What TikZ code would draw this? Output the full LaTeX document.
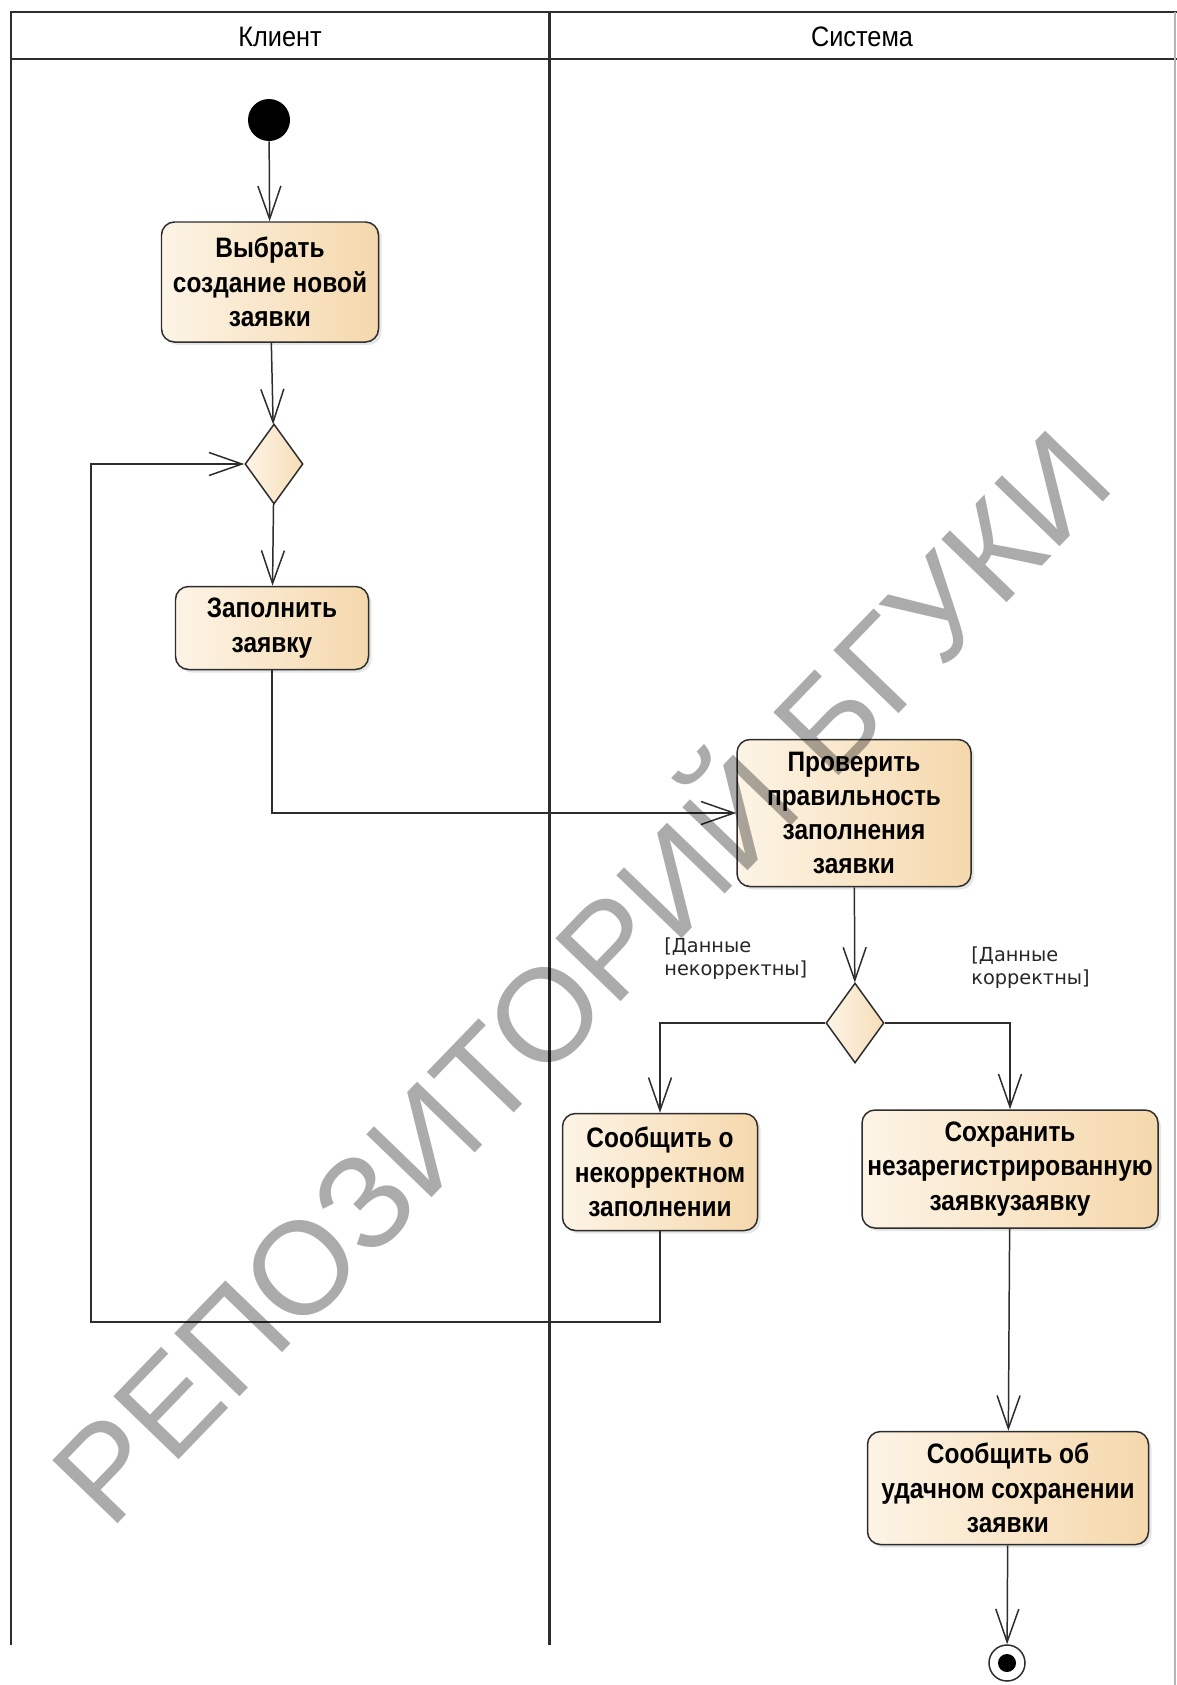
\documentclass[tikz,border=0pt]{standalone}
\usepackage{fontspec}
\setmainfont{Liberation Sans}
\newfontfamily\actfont{Liberation Sans}[FakeStretch=0.87]
\newfontfamily\lanefont{Liberation Sans}[FakeStretch=0.9]
\newfontfamily\guardfont{DejaVu Sans}
\usetikzlibrary{arrows.meta, shapes.geometric, shadows}

\definecolor{actfill}{RGB}{245,216,172}
\definecolor{actlight}{RGB}{253,244,230}
\definecolor{linec}{RGB}{45,45,45}

\begin{document}
\begin{tikzpicture}[x=0.2mm, y=-0.2mm,
  >={Straight Barb[length=6.6mm, width=4.6mm]},
  accion/.style={draw=linec, line width=0.85pt, rounded corners=2.6mm,
    left color=actlight, right color=actfill,
    drop shadow={shadow xshift=0.6mm, shadow yshift=-0.6mm, opacity=0.2},
    align=center, inner sep=0pt,
    font=\actfont\bfseries\fontsize{16}{19.5}\selectfont},
  decision/.style={diamond, draw=linec, line width=0.85pt,
    left color=actlight, right color=actfill!85,
    minimum width=11.6mm, minimum height=16mm, inner sep=0pt},
  flujo/.style={->, draw=linec, line width=0.85pt},
  guarda/.style={align=left, inner sep=0pt, text=black!85,
    font=\guardfont\fontsize{11}{13.6}\selectfont},
  carril/.style={draw=linec, line width=1.7pt}]
  \useasboundingbox (0,0) rectangle (1177,1685);
  % carriles
  \draw[carril] (11,1645) -- (11,12) -- (1177,12);
  \draw[carril] (11,59) -- (1177,59);
  \draw[carril] (549,12) -- (549,1645);
  \draw[draw=linec!35, line width=1pt] (1175,12) -- (1175,1685);
  \node[font=\lanefont\fontsize{16}{19}\selectfont] (cliente) at (280,37) {Клиент};
  \node[font=\lanefont\fontsize{16}{19}\selectfont] (sistema) at (862,37) {Система};
  % nodos de actividad
  \node[circle, fill=black, minimum size=8.4mm, inner sep=0pt] (inicio) at (269,120) {};
  \node[accion, minimum width=43.4mm, minimum height=24mm] (elegir) at (270,282)
    {Выбрать\\создание новой\\заявки};
  \node[decision] (dec1) at (274,464) {};
  \node[accion, minimum width=38.6mm, minimum height=16.6mm] (llenar) at (272,628)
    {Заполнить\\заявку};
  \node[accion, minimum width=46.8mm, minimum height=29.4mm] (verificar) at (854,813)
    {Проверить\\правильность\\заполнения\\заявки};
  \node[decision] (dec2) at (855,1023) {};
  \node[accion, minimum width=39mm, minimum height=23.4mm] (avisoerr) at (660,1172)
    {Сообщить о\\некорректном\\заполнении};
  \node[accion, minimum width=59.2mm, minimum height=23.6mm] (guardar) at (1010,1169)
    {Сохранить\\незарегистрированную\\заявкузаявку};
  \node[accion, minimum width=56.2mm, minimum height=22.6mm] (avisook) at (1008,1488)
    {Сообщить об\\удачном сохранении\\заявки};
  \node[circle, draw=linec, line width=0.85pt, fill=white, minimum size=7.2mm, inner sep=0pt] (fin) at (1007,1663) {};
  \fill[black] (fin.center) circle (1.8mm);
  % flujos
  \draw[flujo] (inicio) -- (elegir);
  \draw[flujo] (elegir) -- (dec1);
  \draw[flujo] (dec1) -- (llenar);
  \draw[flujo] (llenar.south) |- (verificar.west);
  \draw[flujo] (verificar) -- (dec2);
  \draw[flujo] (dec2.west) -| (avisoerr.north);
  \draw[flujo] (dec2.east) -| (guardar.north);
  \coordinate (retorno) at (91,1322);
  \draw[flujo] (avisoerr.south) |- (retorno) |- (dec1.west);
  \draw[flujo] (guardar) -- (avisook);
  \draw[flujo] (avisook) -- (fin);
  % condiciones de guarda
  \node[guarda, anchor=north west] (gno) at (664,937) {[Данные\\некорректны]};
  \node[guarda, anchor=north west] (gsi) at (971,946) {[Данные\\корректны]};
  % marca de agua, encima de todo
  \node[rotate=46, text=black, text opacity=0.33, font=\fontsize{75}{80}\selectfont] (marca) at (572,968)
    {РЕПОЗИТОРИЙ БГУКИ};
\end{tikzpicture}
\end{document}
